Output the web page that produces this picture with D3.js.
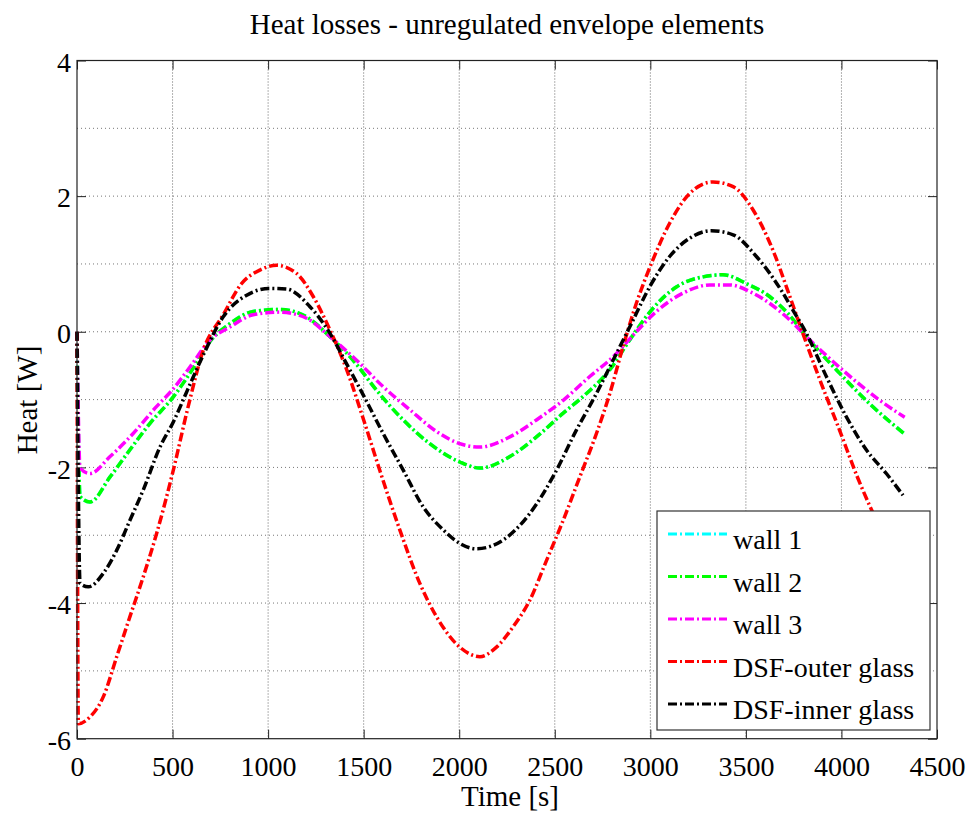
<!DOCTYPE html>
<html>
<head>
<meta charset="utf-8">
<script src="https://cdn.jsdelivr.net/npm/d3@7"></script>
<style>
  body { margin: 0; background: #fff; }
  svg text { font-family: "Liberation Serif", "DejaVu Serif", serif; fill: #000; }
</style>
</head>
<body>
<div id="chart"></div>
<script>
// values: [time s, heat W]
var wall2 = [[0,0],[16,-2.43],[68,-2.51],[173,-2.14],[277,-1.74],[382,-1.35],[504,-0.96],[591,-0.61],
  [696,-0.14],[800,0.12],[922,0.3],[1062,0.33],[1201,0.22],[1323,-0.07],[1445,-0.42],[1567,-0.86],
  [1707,-1.3],[1846,-1.65],[2003,-1.92],[2108,-2.01],[2265,-1.84],[2404,-1.55],[2544,-1.2],[2666,-0.91],
  [2788,-0.56],[2892,-0.12],[3006,0.32],[3136,0.66],[3276,0.81],[3380,0.84],[3503,0.71],[3624,0.52],
  [3720,0.27],[3816,-0.07],[3990,-0.61],[4147,-1.06],[4336,-1.52]];
// wall 1 is not visible in the picture, it sits under wall 2
var wall1 = wall2;
var wall3 = [[0,0],[16,-2.01],[68,-2.09],[173,-1.84],[294,-1.5],[417,-1.1],[504,-0.84],[591,-0.52],
  [696,-0.12],[800,0.07],[922,0.25],[1062,0.29],[1201,0.2],[1323,-0.07],[1463,-0.42],[1602,-0.81],
  [1742,-1.15],[1881,-1.47],[2003,-1.65],[2108,-1.7],[2265,-1.55],[2404,-1.3],[2544,-1.01],[2683,-0.66],
  [2805,-0.37],[2910,-0.05],[3032,0.3],[3171,0.57],[3311,0.69],[3415,0.69],[3537,0.57],[3720,0.2],
  [3816,-0.07],[4025,-0.61],[4200,-1.01],[4331,-1.26]];
var outerGlass = [[0,0],[7,-5.78],[68,-5.68],[138,-5.38],[208,-4.79],[277,-4.2],[347,-3.61],[417,-2.97],
  [504,-2.04],[582,-1.1],[661,-0.27],[765,0.25],[861,0.71],[957,0.91],[1044,0.98],[1149,0.86],[1236,0.52],
  [1323,0.03],[1410,-0.55],[1500,-1.3],[1585,-2.05],[1689,-2.92],[1794,-3.71],[1881,-4.2],[2003,-4.65],
  [2108,-4.79],[2195,-4.65],[2282,-4.35],[2369,-3.96],[2457,-3.37],[2544,-2.78],[2631,-2.14],[2718,-1.5],
  [2788,-0.91],[2857,-0.22],[2927,0.42],[3006,1.01],[3101,1.6],[3206,2.04],[3328,2.21],[3433,2.14],
  [3537,1.8],[3642,1.2],[3720,0.6],[3795,0],[3886,-0.7],[3990,-1.45],[4086,-2.16],[4147,-2.56],[4330,-3.6]];
var innerGlass = [[0,0],[16,-3.71],[59,-3.76],[138,-3.56],[208,-3.22],[277,-2.78],[347,-2.33],[434,-1.7],
  [504,-1.33],[578,-0.86],[661,-0.34],[765,0.22],[888,0.54],[1009,0.64],[1097,0.63],[1219,0.37],
  [1323,-0.02],[1410,-0.47],[1503,-0.96],[1602,-1.5],[1707,-2.04],[1811,-2.58],[1916,-2.92],[2003,-3.12],
  [2090,-3.2],[2230,-3.07],[2369,-2.68],[2500,-2.09],[2613,-1.45],[2718,-0.91],[2805,-0.42],[2892,0.07],
  [3006,0.71],[3101,1.11],[3206,1.38],[3319,1.49],[3433,1.43],[3555,1.11],[3694,0.57],[3746,0.32],
  [3816,-0.02],[3921,-0.66],[4025,-1.25],[4130,-1.74],[4235,-2.09],[4322,-2.41]];

var seriesNames = ["wall 1", "wall 2", "wall 3", "DSF-outer glass", "DSF-inner glass"];
var seriesColors = ["#00ffff", "#00ff00", "#ff00ff", "#ff0000", "#000000"];
var seriesData = [wall1, wall2, wall3, outerGlass, innerGlass];
var xTicks = [0, 500, 1000, 1500, 2000, 2500, 3000, 3500, 4000, 4500];
var yTicks = [-6, -4, -2, 0, 2, 4];
var yGrid = [-5, -4, -3, -2, -1, 0, 1, 2, 3];

var svgWidth = 970;
var svgHeight = 813;
var margin = { top: 60.5, right: 33, bottom: 74.3, left: 77 };
var width = svgWidth - margin.left - margin.right;
var height = svgHeight - margin.top - margin.bottom;

var svg = d3.select("#chart")
  .append("svg")
  .attr("width", svgWidth)
  .attr("height", svgHeight);

var chartGroup = svg.append("g")
  .attr("transform", `translate(${margin.left}, ${margin.top})`);

var xScale = d3.scaleLinear().domain([0, 4500]).range([0, width]);
var yScale = d3.scaleLinear().domain([-6, 4]).range([height, 0]);

// grid
chartGroup.append("g").selectAll("line")
  .data(yGrid)
  .enter()
  .append("line")
  .attr("x1", 0).attr("x2", width)
  .attr("y1", d => yScale(d)).attr("y2", d => yScale(d))
  .attr("stroke", "#777")
  .attr("stroke-dasharray", "1,3");

chartGroup.append("g").selectAll("line")
  .data(xTicks.slice(1, -1))
  .enter()
  .append("line")
  .attr("x1", d => xScale(d)).attr("x2", d => xScale(d))
  .attr("y1", 0).attr("y2", height)
  .attr("stroke", "#666")
  .attr("stroke-dasharray", "1,2");

// axes, ticks pointing inwards on all four sides
var plainNum = d => String(d);
var bottomAxis = d3.axisBottom(xScale).tickValues(xTicks).tickFormat(plainNum)
  .tickSizeInner(-9).tickSizeOuter(0).tickPadding(17);
var leftAxis = d3.axisLeft(yScale).tickValues(yTicks).tickFormat(plainNum)
  .tickSizeInner(-9).tickSizeOuter(0).tickPadding(6);
var topAxis = d3.axisTop(xScale).tickValues(xTicks).tickSizeInner(-9).tickSizeOuter(0).tickFormat("");
var rightAxis = d3.axisRight(yScale).tickValues(yTicks).tickSizeInner(-9).tickSizeOuter(0).tickFormat("");

var xAxisG = chartGroup.append("g")
  .attr("transform", `translate(0, ${height})`)
  .call(bottomAxis)
  .attr("font-family", "Liberation Serif")
  .attr("font-size", 28);
var yAxisG = chartGroup.append("g")
  .call(leftAxis)
  .attr("font-family", "Liberation Serif")
  .attr("font-size", 28);
chartGroup.append("g").call(topAxis);
chartGroup.append("g").attr("transform", `translate(${width}, 0)`).call(rightAxis);

chartGroup.selectAll(".domain").remove();
chartGroup.selectAll(".tick line").attr("stroke", "#222");
yAxisG.selectAll("text").attr("dy", "0.38em");

// curves
var line = d3.line()
  .x(d => xScale(d[0]))
  .y(d => yScale(d[1]))
  .curve(d3.curveMonotoneX);

chartGroup.append("g").selectAll("path")
  .data(seriesData)
  .enter()
  .append("path")
  .attr("d", d => line(d))
  .attr("fill", "none")
  .attr("stroke", (d, i) => seriesColors[i])
  .attr("stroke-width", 3.5)
  .attr("stroke-dasharray", "9,3,2,3");

// plot box
chartGroup.append("rect")
  .attr("width", width)
  .attr("height", height)
  .attr("fill", "none")
  .attr("stroke", "#222")
  .attr("stroke-width", 1.2);

// legend
var legend = svg.append("g").attr("transform", "translate(657, 511)");
legend.append("rect")
  .attr("width", 273)
  .attr("height", 219)
  .attr("fill", "#fff")
  .attr("stroke", "#333")
  .attr("stroke-width", 1.2);

var rows = legend.selectAll(".row")
  .data(seriesNames)
  .enter()
  .append("g")
  .attr("transform", (d, i) => `translate(0, ${23 + i * 42.5})`);

rows.append("line")
  .attr("x1", 11).attr("x2", 70)
  .attr("y1", 0).attr("y2", 0)
  .attr("stroke", (d, i) => seriesColors[i])
  .attr("stroke-width", 3)
  .attr("stroke-dasharray", "9,3,2,3");

rows.append("text")
  .attr("x", 76)
  .attr("y", 15)
  .style("font-size", "28px")
  .text(d => d);

// titles
svg.append("text")
  .attr("x", 507)
  .attr("y", 34)
  .attr("text-anchor", "middle")
  .style("font-size", "29px")
  .text("Heat losses - unregulated envelope elements");

svg.append("text")
  .attr("x", 510)
  .attr("y", 806)
  .attr("text-anchor", "middle")
  .style("font-size", "29px")
  .text("Time [s]");

svg.append("text")
  .attr("transform", "rotate(-90)")
  .attr("x", -400)
  .attr("y", 37)
  .attr("text-anchor", "middle")
  .style("font-size", "29px")
  .text("Heat [W]");
</script>
</body>
</html>
